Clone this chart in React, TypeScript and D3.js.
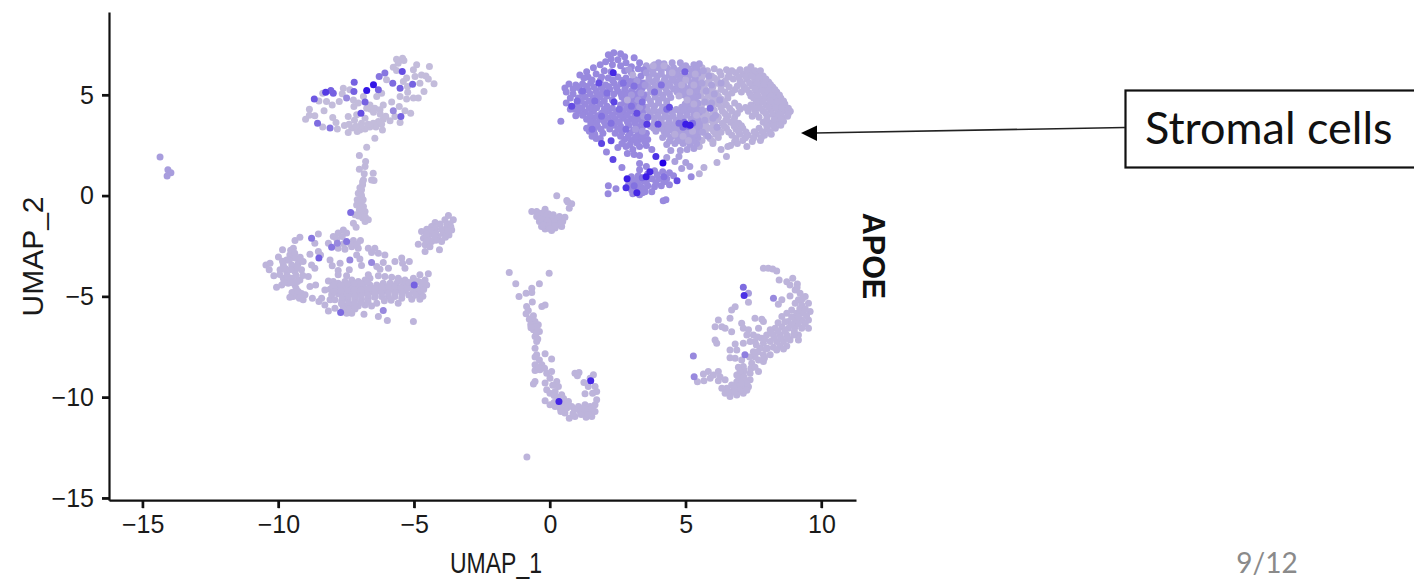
import React, { useEffect, useRef } from 'react'
import * as d3 from 'd3'

type Pt = [number, number]
type Cell = [number, number, number]

const xTicks = [-15, -10, -5, 0, 5, 10]
const yTicks = [-15, -10, -5, 0, 5]
const xLabel = 'UMAP_1'
const yLabel = 'UMAP_2'
const featureName = 'APOE'
const calloutText = 'Stromal cells'
const pageNumber = '9/12'

// dots are grouped by the colour they have in the picture, each with one APOE level
const stromalRight: Pt[] = [
  [5.6,6.35],[6.05,6.3],[6.5,6.25],[7.4,6.4],[5.35,6.1],[5.7,6.05],[5.95,5.95],[6.3,6.0],[6.6,6.05],[6.85,6.1],[7.1,6.05],[7.35,6.1],[7.6,6.05],[7.85,5.95],
  [5.5,5.75],[5.85,5.7],[6.15,5.75],[6.45,5.7],[6.75,5.8],[7.0,5.7],[7.25,5.8],[7.55,5.75],[7.8,5.7],[8.05,5.65],[5.65,5.45],[6.0,5.4],[6.3,5.45],[6.6,5.4],[6.9,5.45],[7.15,5.4],[7.45,5.45],[7.7,5.4],[7.95,5.35],[8.2,5.4],
  [5.55,5.15],[5.8,5.1],[6.1,5.1],[6.45,5.15],[6.7,5.1],[7.05,5.15],[7.35,5.1],[7.6,5.15],[7.9,5.05],[8.15,5.1],[8.35,5.15],[5.7,4.8],[6.0,4.85],[6.3,4.8],[6.55,4.85],[7.5,4.85],[7.75,4.8],[8.0,4.85],[8.3,4.8],[8.5,4.85],[8.25,4.95],
  [5.6,4.55],[5.9,4.5],[6.2,4.55],[6.5,4.5],[6.8,4.6],[7.4,4.5],[7.65,4.55],[7.95,4.5],[8.2,4.55],[8.45,4.5],[8.65,4.55],[5.75,4.2],[6.05,4.25],[6.35,4.2],[6.7,4.2],[7.0,4.3],[7.3,4.2],[7.55,4.25],[7.85,4.2],[8.15,4.25],[8.4,4.2],[8.65,4.2],[8.85,4.2],
  [5.55,3.9],[5.9,3.95],[6.2,3.9],[6.55,3.95],[6.8,3.9],[7.45,3.95],[7.7,3.9],[8.0,3.95],[8.3,3.9],[8.55,3.9],[8.75,3.95],[5.7,3.6],[6.0,3.65],[6.35,3.6],[6.65,3.65],[6.95,3.6],[7.85,3.65],[8.1,3.6],[8.4,3.65],[8.6,3.7],
  [5.6,3.3],[5.9,3.35],[6.2,3.3],[6.5,3.35],[6.85,3.3],[7.1,3.35],[7.7,3.35],[8.0,3.3],[8.3,3.35],[5.75,3.0],[6.1,3.05],[6.7,3.0],[7.0,3.05],[7.3,3.0],[7.6,3.05],[7.9,3.0],[8.15,3.05],
  [5.6,2.75],[6.0,2.7],[6.8,2.7],[7.1,2.75],[7.45,2.7],[7.75,2.75],[5.5,2.45],[6.55,2.45],[7.25,2.45],[6.65,2.5],[6.3,2.3],[6.5,1.95],[6.15,1.65],[5.67,1.4],[5.5,1.1],[6.0,2.6],[6.9,2.6],
  [5.8,6.2],[6.25,6.15],[6.7,6.2],[7.0,6.25],[7.25,6.25],[7.55,6.2],[7.75,6.2],[5.6,5.9],[6.05,5.85],[6.55,5.88],[6.95,5.9],[7.2,5.92],[7.45,5.92],[7.7,5.88],[7.95,5.8],
  [5.78,5.58],[6.18,5.58],[6.5,5.55],[7.08,5.57],[7.35,5.6],[7.62,5.57],[7.88,5.52],[8.12,5.52],[5.72,5.28],[5.95,5.25],[6.3,5.28],[6.82,5.28],[7.25,5.27],[7.55,5.3],[7.8,5.22],[8.05,5.22],[8.28,5.28],
  [5.55,4.95],[5.9,4.97],[6.2,4.95],[6.55,5.0],[7.4,4.95],[7.65,4.98],[7.92,4.93],[8.12,4.95],[8.45,5.0],[5.8,4.65],[6.1,4.68],[6.42,4.67],[7.6,4.68],[7.85,4.65],[8.1,4.7],[8.38,4.65],[8.6,4.7],
  [5.5,4.38],[5.98,4.38],[6.3,4.38],[6.62,4.35],[6.95,4.45],[7.2,4.38],[7.48,4.38],[7.75,4.35],[8.05,4.38],[8.3,4.38],[8.55,4.38],[8.78,4.35],[5.72,4.05],[6.0,4.08],[6.45,4.07],[6.9,4.08],[7.58,4.08],[7.95,4.08],[8.2,4.05],[8.48,4.05],[8.78,4.08],
  [5.85,3.78],[6.15,3.77],[6.48,3.78],[6.78,3.75],[7.98,3.8],[8.25,3.77],[8.5,3.8],[5.75,3.47],[6.08,3.48],[6.42,3.47],[6.78,3.47],[7.05,3.48],[7.98,3.48],[8.22,3.48],[8.5,3.5],
  [5.72,3.17],[6.02,3.2],[6.3,3.15],[6.58,3.17],[6.95,3.17],[7.22,3.17],[7.52,3.18],[7.82,3.18],[8.1,3.18],[5.9,2.85],[6.2,2.9],[6.85,2.85],[7.2,2.88],[7.5,2.87],[7.78,2.88],
]
const stromalMid: Pt[] = [
  [4.0,6.6],[4.5,6.6],[4.8,6.6],[5.5,6.55],[3.55,6.45],[3.85,6.5],[4.2,6.55],[5.0,6.45],[5.3,6.5],[3.5,6.2],[3.8,6.25],[4.1,6.2],[4.4,6.15],[4.7,6.2],[5.25,6.2],
  [3.65,5.9],[3.95,5.95],[4.25,5.85],[4.55,5.9],[4.8,5.95],[5.1,5.9],[5.35,5.85],[3.5,5.6],[3.8,5.65],[4.05,5.55],[4.35,5.6],[4.65,5.65],[4.9,5.55],[5.2,5.6],[5.45,5.55],
  [3.7,5.3],[4.0,5.25],[4.25,5.35],[4.55,5.3],[4.8,5.25],[5.05,5.3],[5.3,5.35],[3.55,5.0],[3.85,5.05],[4.15,5.0],[4.4,5.05],[4.95,5.0],[5.2,5.05],[5.45,4.95],
  [3.7,4.7],[4.0,4.75],[4.3,4.7],[5.1,4.7],[5.35,4.75],[3.55,4.4],[3.85,4.45],[4.15,4.4],[4.85,4.4],[5.1,4.4],[5.35,4.45],
  [3.7,4.1],[3.95,4.15],[4.25,4.05],[4.5,4.15],[4.8,4.1],[5.05,4.15],[5.3,4.05],[5.5,4.15],[3.55,3.8],[3.85,3.85],[4.1,3.8],[4.4,3.85],[4.65,3.75],[4.9,3.85],[5.2,3.8],[5.45,3.75],
  [3.7,3.45],[4.25,3.5],[4.5,3.5],[4.75,3.45],[5.3,3.5],[5.5,3.45],[3.9,3.2],[4.2,3.2],[4.45,3.25],[4.7,3.15],[4.95,3.2],[5.2,3.2],[5.45,3.15],
  [4.15,2.9],[4.45,2.9],[4.7,2.85],[4.95,2.9],[5.2,2.85],[5.45,2.9],[4.3,2.55],[4.6,2.6],[4.9,2.6],[5.15,2.55],[5.4,2.6],[4.45,2.25],[4.8,2.25],[5.05,2.3],[5.3,2.35],[4.75,1.95],[5.0,1.65],[4.85,1.35],[5.15,1.45],[4.3,1.9],[4.6,1.7],
  [3.68,6.32],[3.98,6.35],[4.3,6.35],[4.55,6.35],[4.85,6.3],[5.1,6.3],[5.4,6.3],[3.8,6.07],[4.1,6.03],[4.4,6.0],[4.65,6.03],[4.95,6.05],[5.22,6.03],[5.45,6.08],
  [3.65,5.77],[3.92,5.78],[4.2,5.72],[4.5,5.75],[4.78,5.78],[5.02,5.73],[5.32,5.7],[3.6,5.45],[3.88,5.45],[4.13,5.45],[4.42,5.47],[4.7,5.45],[4.95,5.42],[5.2,5.45],[5.45,5.4],
  [3.72,5.18],[4.0,5.12],[4.3,5.18],[4.68,5.15],[4.95,5.17],[5.18,5.2],[5.4,5.2],[3.6,4.85],[3.88,4.9],[4.15,4.85],[4.45,4.88],[5.05,4.85],[5.28,4.9],
  [3.72,4.55],[4.0,4.6],[4.3,4.55],[4.98,4.55],[5.22,4.57],[5.45,4.6],[3.58,4.25],[3.82,4.28],[4.1,4.23],[4.38,4.25],[4.65,4.28],[4.92,4.25],[5.18,4.28],[5.42,4.28],
  [3.7,3.95],[3.98,3.98],[4.25,3.93],[4.52,3.98],[4.78,3.95],[5.05,4.0],[5.33,3.93],[3.55,3.65],[3.85,3.65],[4.1,3.65],[4.38,3.67],[4.62,3.6],[4.85,3.65],[5.35,3.65],[5.5,3.6],
  [3.82,3.35],[4.08,3.35],[4.35,3.37],[4.6,3.32],[4.85,3.32],[5.08,3.35],[5.35,3.33],[4.3,3.05],[4.58,3.03],[4.82,3.02],[5.08,3.05],[5.32,3.02],[4.4,2.72],[4.75,2.73],[5.02,2.73],[5.28,2.72],
]
const stromalLeft: Pt[] = [
  [2.15,7.0],[2.35,7.1],[2.6,7.05],[2.75,6.9],[2.25,6.8],[2.5,6.75],[2.05,6.65],[1.85,6.5],[2.3,6.5],[2.6,6.45],[2.8,6.6],[3.0,6.4],[3.1,6.85],[3.3,6.6],
  [1.6,6.35],[1.35,6.15],[1.1,6.0],[1.4,5.9],[1.7,6.05],[2.0,6.2],[2.25,6.15],[2.75,6.2],[3.0,6.1],[3.25,6.3],[3.45,6.25],[1.9,5.9],[2.15,5.85],[2.5,5.9],[2.8,5.85],[3.1,5.8],[3.35,5.95],
  [.55,5.35],[.7,5.55],[.95,5.5],[.6,5.15],[1.2,5.55],[1.5,5.6],[2.05,5.5],[2.35,5.6],[2.6,5.55],[2.9,5.55],[3.2,5.5],[3.4,5.6],[.85,5.05],[1.15,5.2],[1.4,5.25],[1.7,5.2],[1.95,5.2],[2.2,5.3],[2.5,5.2],[2.75,5.25],[3.0,5.2],[3.3,5.2],
  [1.05,4.85],[1.3,4.9],[1.6,4.85],[1.85,4.9],[2.1,4.95],[2.65,4.9],[2.9,4.85],[3.15,4.9],[3.4,4.85],[.6,4.6],[.75,4.3],[1.0,4.5],[1.3,4.55],[1.55,4.5],[1.85,4.55],[2.1,4.45],[2.6,4.5],[2.85,4.55],[3.1,4.5],[3.4,4.45],
  [1.05,4.2],[1.3,4.15],[1.6,4.2],[1.9,4.1],[2.15,4.2],[2.45,4.15],[2.7,4.15],[2.95,4.2],[3.4,4.15],[.95,3.97],[.4,3.7],[1.35,3.8],[1.6,3.85],[1.85,3.8],[2.15,3.85],[2.4,3.8],[2.7,3.85],[3.0,3.8],[3.25,3.8],
  [1.5,3.5],[1.75,3.45],[2.05,3.5],[2.35,3.5],[2.6,3.45],[2.9,3.5],[3.2,3.45],[3.45,3.5],[1.45,3.2],[1.65,3.05],[1.95,3.1],[2.4,3.1],[2.65,3.15],[2.95,3.1],[3.25,3.1],[3.55,3.1],
  [1.7,2.85],[2.75,2.8],[3.0,2.75],[3.3,2.8],[3.6,2.8],[2.5,2.4],[2.8,2.45],[3.05,2.3],[3.3,2.45],[3.55,2.5],[3.75,2.3],[2.85,2.1],[3.1,2.05],[2.08,2.17],[2.65,1.4],[3.3,1.6],[3.3,2.0],
  [1.25,5.85],[1.55,5.75],[1.85,5.72],[2.3,5.75],[2.65,5.72],[3.0,5.7],[3.25,5.72],[.85,5.3],[1.05,5.38],[1.35,5.42],[1.62,5.4],[1.88,5.38],[2.15,5.42],[2.45,5.38],[2.78,5.4],[3.08,5.37],[3.4,5.35],
  [.75,4.85],[1.2,5.05],[1.48,5.07],[1.75,5.05],[2.02,5.08],[2.35,5.05],[2.62,5.05],[2.85,5.02],[3.18,5.05],[3.45,5.02],[1.15,4.7],[1.45,4.7],[1.72,4.72],[2.0,4.7],[2.3,4.75],[2.75,4.7],[3.0,4.7],[3.28,4.68],
  [.9,4.3],[1.18,4.37],[1.45,4.33],[1.72,4.37],[2.0,4.3],[2.3,4.35],[2.58,4.32],[2.82,4.35],[3.08,4.33],[3.28,4.3],[1.2,4.0],[1.48,4.0],[1.75,3.97],[2.02,3.98],[2.3,4.0],[2.58,3.98],[2.85,4.0],[3.12,3.97],[3.4,3.97],
  [1.5,3.68],[1.72,3.63],[2.0,3.68],[2.28,3.65],[2.55,3.65],[2.85,3.68],[3.12,3.62],[3.38,3.65],[1.35,3.35],[1.62,3.28],[1.88,3.3],[2.2,3.32],[2.5,3.3],[2.78,3.32],[3.08,3.28],[3.38,3.3],
  [1.55,2.95],[1.85,2.85],[2.6,2.95],[2.88,2.95],[3.15,2.92],[3.42,2.95],[2.65,2.6],[2.95,2.55],[3.2,2.62],[3.5,2.68],
]
const stromalLobe: Pt[] = [
  [3.3,1.3],[3.55,1.45],[3.85,1.25],[4.15,1.2],[4.4,1.15],[3.0,.95],[3.25,1.0],[3.45,.75],[3.75,.85],[4.0,.85],[4.3,.85],[4.55,1.0],[2.9,.6],[3.1,.65],[3.35,.45],[3.6,.5],[3.85,.45],[4.1,.5],[4.4,.55],
  [3.0,.3],[3.2,.4],[3.05,.1],[3.3,.05],[3.5,.2],[3.75,.2],[3.25,.2],[4.27,-.2],[4.17,-.25],[2.15,.5],[2.43,.35],[2.14,.1],[5.2,.95],
  [3.6,1.1],[3.95,1.05],[2.95,.8],[3.2,.8],[3.55,.7],[3.25,.6],[3.5,.35],[3.15,.25],[3.0,.45],[3.4,.15],[4.2,.7],[3.9,.65],
]
// single dots that break up the colour bands
const stromalDarkSpecks: Pt[] = [
  [1.2,5.2],[1.65,4.7],[2.1,5.1],[2.55,4.3],[1.9,3.95],[2.8,3.3],[3.4,4.65],[3.1,5.45],[3.85,5.15],[4.3,4.3],[4.75,3.6],[4.95,3.65],[5.1,3.45],[5.25,3.6],[4.9,3.4],[1.55,3.3],[2.25,3.6],[3.0,4.45],[3.6,3.9],[4.1,5.5],[2.7,5.6],[1.0,4.7],[4.2,.95],[3.4,.9],[3.1,.5],
]
const stromalPaleSpecks: Pt[] = [
  [5.0,5.75],[5.15,5.15],[5.3,4.55],[5.4,4.0],[5.25,3.2],[5.1,2.75],[5.35,6.05],[4.85,5.5],[5.05,4.75],[4.75,4.95],[4.6,3.05],[4.9,2.95],[5.3,5.5],[4.5,6.1],[4.2,6.45],[3.8,6.45],[3.05,6.0],[2.85,4.75],
]
const stromalEdgeRight: Pt[] = [
  [5.6,5.6],[5.75,5.2],[5.7,4.65],[5.62,4.25],[5.7,3.75],[5.62,3.15],[5.85,5.95],[5.95,4.6],[6.0,3.85],[5.82,2.95],[5.95,5.5],[6.05,5.05],[6.1,4.0],[5.65,6.2],[6.15,3.4],[6.3,5.6],[6.25,4.75],
]
const stromalEdgeLeft: Pt[] = [
  [3.2,5.7],[3.35,5.1],[3.3,4.4],[3.45,3.95],[3.15,3.3],[3.4,3.2],[3.0,5.0],[2.9,6.25],[3.55,6.1],[3.25,4.75],[3.5,5.5],
]
const stromalHot: Cell[] = [
  [2.33,6.1,.8],[1.8,5.6,.6],[.8,4.45,.6],[2.36,4.65,.65],[3.2,4.1,.6],[3.57,3.55,.7],[3.98,3.55,.6],[4.4,4.4,.6],[5.0,3.55,.85],[5.16,3.5,.85],[4.97,6.15,.5],[5.9,4.35,.45],
  [1.9,2.6,.65],[2.25,2.73,.6],[2.32,1.8,.65],[3.9,1.95,.75],[4.16,1.63,1],[2.84,.85,.85],[2.8,.4,.75],[3.54,.95,.85],[3.68,1.2,.8],[3.2,.15,.8],[4.68,.75,.6],
]
const topLeft: Pt[] = [
  [-5.65,6.78],[-5.43,6.83],[-5.38,6.71],[-5.59,6.58],[-5.77,6.38],[-5.65,6.22],[-4.91,6.5],[-5.03,6.25],[-4.44,6.42],[-4.73,6.0],[-4.57,5.95],[-4.97,5.92],[-5.28,5.84],[-4.27,5.56],[-4.48,5.79],[-4.64,5.18],[-4.79,5.59],[-5.4,5.67],[-5.25,5.42],
  [-6.02,5.76],[-6.2,5.09],[-6.38,4.93],[-7.37,5.26],[-7.61,5.34],[-7.65,5.06],[-8.37,5.09],[-8.51,4.71],[-8.23,4.68],[-8.02,4.51],[-7.76,4.68],[-7.24,4.76],[-6.63,4.51],[-6.45,4.35],[-6.26,4.27],[-6.14,4.51],[-5.83,4.65],[-5.52,4.93],[-5.28,4.8],[-5.03,4.85],[-4.85,4.85],[-5.24,5.14],[-5.55,4.43],[-5.34,4.22],[-5.13,4.1],[-5.71,3.94],[-5.89,3.72],[-5.52,3.64],[-6.17,3.27],
  [-6.14,3.8],[-6.32,3.69],[-6.51,3.6],[-6.41,3.41],[-6.63,3.41],[-6.81,3.31],[-7,3.27],[-6.94,3.6],[-7.3,3.36],[-7.43,3.14],[-7.1,3.19],[-7.57,3.49],[-7.83,3.31],[-7.88,3.64],[-8,3.89],[-8.37,3.41],[-9,3.8],[-8.86,4],[-8.66,3.97],[-8.86,4.3],[-8.32,4.22],[-7.43,3.94],[-7.22,4.43],[-7.12,4.02],[-6.81,3.85],[-6.75,4.35],[-6.87,4.93],[-7.06,4.6],[-6.45,2.86],[-6.75,2.41],
  [-6.6,4.3],[-6.5,4.15],[-6.25,4.05],[-6.05,3.95],[-7.2,3.75],[-6.95,3.45],[-6.7,3.55],[-6.2,3.55],[-7.4,3.55],[-7.15,3.45],
]
const topLeftHot: Cell[] = [
  [-5.44,6.17,.6],[-5.06,5.54,.5],[-5.52,5.34,.5],[-5.79,5.59,.45],[-6.08,6.09,.4],[-6.29,5.92,.4],[-6.5,5.51,.9],[-6.75,5.23,.9],[-6.32,5.26,.5],[-7.21,5.64,.5],[-7.22,5.18,.5],[-7.98,5.09,.5],[-8.26,5.14,.7],[-8.07,5.23,.5],[-8.68,4.81,.55],[-7.49,4.85,.3],[-6.81,4.65,.5],[-5.77,4.22,.3],[-5.49,3.94,.5],[-8.1,3.36,.4],[-8.56,3.6,.45],[-6.96,4.1,.6],[-7.34,-.83,.45],
]
const stem: Pt[] = [
  [-7.02,2.0],[-6.79,1.7],[-6.81,1.45],[-7.02,1.32],[-6.84,1.09],[-6.51,1.12],[-6.48,.76],[-6.57,.79],[-6.87,.79],[-6.9,.55],[-6.94,.3],[-7.06,.13],[-6.94,-.03],[-7.1,-.2],[-6.96,-.36],[-7.12,-.45],[-6.87,-.53],[-6.81,-.78],[-7.02,-.7],[-7.18,-.94],[-6.69,-1.19],[-6.81,-1.27],[-6.87,-.94],[-7.24,-1.36],[-7.14,-1.56],
  [-6.95,.05],[-6.88,-.2],[-7.05,-.2],[-6.95,-.6],[-7.05,-1.0],[-6.9,-1.1],[-6.8,-1.05],[-7.0,.4],[-6.9,.7],
]
const smallLeft: Pt[] = [[-14.36,1.93],[-14.07,1.29],[-13.96,1.14],[-14.1,.99]]
const bottomLeft: Pt[] = [
  [-3.74,-.98],[-3.56,-1.19],[-3.68,-1.39],[-3.87,-1.19],[-4.23,-1.32],[-4.36,-1.52],[-4.54,-1.66],[-4.73,-1.77],[-3.62,-1.69],[-3.8,-1.61],[-3.72,-1.94],[-3.93,-1.85],[-4.11,-2.02],[-4.3,-1.85],[-4.48,-2.02],[-4.66,-2.1],[-4.85,-2.4],[-4.6,-2.43],[-4.36,-2.27],[-4.42,-2.52],[-4.6,-2.76],[-4.07,-2.68],[-3.99,-2.27],[-4.23,-1.61],
  [-4.05,-1.4],[-4.2,-1.85],[-3.8,-1.4],[-4.0,-1.65],[-3.85,-2.05],[-4.2,-2.2],[-4.55,-2.25],[-4.25,-2.0],[-4.4,-1.72],[-4.55,-1.9],[-3.65,-1.55],[-3.75,-1.75],
  [-10.46,-3.43],[-10.31,-3.34],[-10.34,-3.67],[-10.17,-3.97],[-10.07,-4.53],[-9.88,-4.42],[-10.0,-3.04],[-9.85,-2.68],[-9.39,-2.22],[-9.21,-2.05],[-9.45,-2.6],[-9.58,-2.93],[-9.39,-3.09],[-9.7,-3.18],[-9.82,-3.43],[-9.51,-3.43],[-9.27,-3.34],[-9.94,-3.67],[-9.7,-3.76],[-9.39,-3.76],[-9.15,-3.67],[-9.82,-4.09],[-9.51,-4.09],[-9.64,-4.34],[-9.39,-4.42],[-9.21,-4.17],[-9.09,-3.26],[-8.84,-2.9],[-8.53,-2.76],[-8.45,-2.93],[-8.53,-1.89],[-8.66,-2.35],[-8.9,-4],[-8.66,-3.59],[-8.78,-3.43],[-8.84,-4.5],[-8.63,-4.42],
  [-9.85,-3.25],[-9.6,-3.2],[-9.75,-3.6],[-9.55,-3.65],[-9.3,-3.55],[-9.95,-3.9],[-9.68,-3.95],[-9.35,-3.95],[-9.65,-4.15],[-9.8,-4.3],[-9.5,-4.3],[-9.3,-4.25],[-9.35,-4.6],[-9.5,-4.8],[-9.15,-4.85],[-9.3,-4.95],[-9.1,-3.95],[-9.2,-3.05],[-9.55,-2.7],[-9.4,-2.85],
  [-9.45,-5],[-9.23,-5.08],[-9.58,-5.03],[-9.09,-5.16],[-9.02,-4.91],[-9.27,-4.75],[-8.75,-5.08],[-8.41,-5.08],[-8.51,-5.24],[-8.29,-5.41],[-8.1,-5.16],[-8.16,-5.71],[-7.92,-5.58],[-7.49,-5.82],[-7.3,-5.82],[-6.85,-5.87],[-6.32,-5.99],[-5.99,-6.19],[-5.03,-6.24],
  [-7.61,-1.69],[-7.8,-1.85],[-7.98,-2.02],[-7.49,-1.85],[-8.16,-2.35],[-7.8,-2.6],[-7.55,-2.65],[-7.24,-2.22],[-6.98,-2.22],[-7.3,-2.52],[-7.06,-2.6],[-7.12,-2.93],[-7,-3.14],[-8.1,-3.18],[-8.02,-3.47],[-7.73,-3.34],[-7.8,-3.71],[-7.8,-3.92],[-7.39,-3.67],[-7.49,-3.97],[-6.94,-3.46],[-6.69,-2.6],[-6.45,-2.6],[-6.57,-2.81],[-6.32,-2.85],[-6.08,-2.93],[-6.38,-3.51],[-6.14,-3.31],[-5.95,-3.59],[-6.26,-3.64],[-5.71,-3.26],[-5.46,-3.09],[-5.43,-3.34],[-5.34,-3.59],[-5.18,-3.26],[-4.48,-3.87],
  [-7.65,-2.02],[-7.85,-2.15],[-7.6,-2.38],[-7.35,-2.38],[-7.1,-2.4],
  [-8.16,-4.22],[-7.98,-4.25],[-7.8,-4.34],[-7.55,-4.25],[-7.3,-4.17],[-7.06,-4.25],[-6.81,-4.17],[-6.63,-4.09],[-6.69,-3.92],[-6.32,-3.97],[-6.08,-4],[-5.83,-4.04],[-5.59,-4.09],[-5.34,-4.17],[-5.03,-4.09],[-4.79,-3.92],[-4.6,-4.17],[-4.85,-4.25],[-4.73,-4.53],[-4.54,-4.42],[-5.18,-4.5],[-5.4,-4.42],[-5.65,-4.34],[-5.89,-4.34],[-6.14,-4.34],[-6.38,-4.42],[-6.63,-4.42],[-6.87,-4.5],[-7.12,-4.53],[-7.37,-4.5],[-7.61,-4.58],[-7.86,-4.58],[-8.1,-4.63],[-8.29,-4.67],
  [-8.04,-4.91],[-7.8,-4.86],[-7.55,-4.86],[-7.3,-4.83],[-7.06,-4.83],[-6.81,-4.8],[-6.57,-4.75],[-6.32,-4.7],[-6.08,-4.67],[-5.83,-4.63],[-5.59,-4.67],[-5.34,-4.7],[-5.03,-4.75],[-4.79,-4.83],[-6.2,-5],[-5.95,-5],[-5.71,-5],[-5.46,-5.08],[-5.09,-5.13],[-4.79,-5.13],[-5.59,-5.33],[-6.45,-5.03],[-6.69,-5.08],[-6.94,-5.13],[-7.18,-5.13],[-7.43,-5.16],[-7.67,-5.2],[-7.92,-5.16],[-7.55,-5.46],[-7.3,-5.43],[-7.06,-5.46],[-6.81,-5.41],[-6.57,-5.46],[-6.38,-5.33],
  [-8.0,-4.45],[-7.7,-4.42],[-7.45,-4.38],[-7.2,-4.38],[-6.95,-4.35],[-6.72,-4.28],[-7.95,-4.75],[-7.7,-4.72],[-7.45,-4.7],[-7.2,-4.68],[-6.95,-4.66],[-6.7,-4.62],[-6.45,-4.58],[-6.2,-4.52],[-5.95,-4.5],[-5.72,-4.5],[-5.48,-4.55],[-5.25,-4.6],[-4.92,-4.6],[-4.65,-4.65],
  [-7.65,-5.03],[-7.42,-5.0],[-7.18,-4.98],[-6.95,-4.97],[-6.7,-4.93],[-6.45,-4.87],[-6.2,-4.83],[-5.95,-4.82],[-5.7,-4.82],[-5.45,-4.88],[-5.2,-4.92],[-4.95,-4.93],[-4.68,-4.98],[-7.68,-5.35],[-7.42,-5.33],[-7.2,-5.3],[-6.95,-5.28],[-6.7,-5.27],[-6.1,-5.2],[-5.85,-5.18],[-7.42,-5.62],[-7.18,-5.62],[-7.62,-5.62],[-5.55,-4.2],[-5.2,-4.3],[-4.95,-4.25],[-4.7,-4.3],
]
const bottomLeftHot: Cell[] = [
  [-8.78,-2.1,.4],[-8.51,-3.09,.5],[-7.83,-2.35,.3],[-8.04,-2.55,.4],[-7.49,-2.27,.4],[-7.37,-3.18,.3],[-6.57,-3.31,.3],[-5,-4.42,.5],[-7.71,-5.79,.45],[-6.14,-5.69,.3],
]
const centerBlob: Pt[] = [
  [-.67,-.78],[-.49,-.78],[-.18,-.66],[-.3,-.86],[-.06,-.89],[.12,-.94],[.35,-1.02],[.55,-1.06],[-.49,-1.02],[-.24,-1.11],[0,-1.16],[.25,-1.19],[.47,-1.27],[-.39,-1.27],[-.18,-1.35],[.06,-1.39],[.31,-1.44],[-.31,-1.52],[-.06,-1.6],[.19,-1.6],[-.18,-1.65],[.06,-1.72],[.43,-1.52],[.25,0],[.62,-.23],[.8,-.39],[.71,-.61],[.66,-.3],
  [-.4,-.9],[-.15,-1.0],[.05,-1.05],[.3,-1.1],[-.35,-1.15],[-.1,-1.25],[.18,-1.3],[.4,-1.35],[-.25,-1.45],[-.05,-1.48],[.18,-1.48],[.0,-1.62],
]
const tail: Pt[] = [
  [-1.5,-3.8],[-1.26,-4.36],[-.03,-3.84],[-.39,-4.36],[-.67,-4.58],[-.88,-4.83],[-.67,-4.79],[-1.14,-5],[-.65,-5.27],[-.3,-5.49],[-.18,-5.41],[-.86,-5.49],[-.8,-5.69],[-.88,-5.85],[-.61,-5.95],[-.76,-6.12],[-.55,-6.23],[-.71,-6.4],[-.43,-6.4],[-.61,-6.65],[-.39,-6.73],[-.55,-6.98],[-.49,-7.23],[-.55,-7.56],[-.49,-7.89],[-.18,-7.84],[.06,-8.09],[-.39,-8.14],[-.55,-8.38],[-.3,-8.38],[-.55,-8.66],[-.37,-8.63],[-.12,-8.8],[.06,-8.71],[0,-9.05],[-.55,-9.21],[-.61,-9.33],[-.18,-9.29],[.25,-9.21],[.31,-9.46],[-.12,-9.62],[0,-9.79],[.19,-9.71],[.43,-9.87],[-.18,-10.17],[0,-10.37],[.19,-10.45],[.49,-10.29],[.68,-10.2],[.37,-10.53],[.62,-10.53],[.8,-10.45],[.55,-10.78],[.71,-11.03],[.92,-10.95],[1.05,-10.45],[1.11,-10.7],[1.29,-10.37],[1.48,-10.45],[1.66,-10.37],[1.29,-10.7],[1.48,-10.75],[1.66,-10.7],[1.33,-10.98],[1.54,-10.95],[1.72,-10.12],[.92,-8.8],[1.07,-8.76],[1.01,-8.93],[1.25,-9.26],[1.6,-8.88],[1.48,-9.05],[1.41,-9.46],[1.66,-9.46],[1.72,-9.71],[1.57,-9.79],[1.29,-9.82],[-.85,-12.96],
  [-.65,-6.05],[-.5,-6.5],[-.7,-6.55],[-.5,-6.8],[-.45,-7.1],[-.55,-8.0],[-.42,-8.5],[-.2,-8.55],[.1,-9.4],[.15,-9.9],[.3,-10.0],[.5,-10.05],[.4,-10.3],[.15,-10.25],[.65,-10.38],[.9,-10.6],[.85,-10.8],[.55,-10.6],[.4,-10.7],[1.2,-10.55],[1.4,-10.6],[1.55,-10.55],[1.15,-10.85],[1.4,-10.85],
]
const tailHot: Cell[] = [[.33,-10.2,.8],[1.5,-9.18,.8]]
const lowerRight: Pt[] = [
  [7.86,-3.59],[8.04,-3.59],[8.2,-3.63],[8.35,-3.73],[8.44,-4.17],[7.31,-5.28],[8.54,-5.16],[8.41,-5.38],[8.94,-4.09],[8.72,-4.26],[8.84,-4.42],[9.11,-4.37],[9.03,-4.67],[9.21,-4.83],[8.84,-4.97],[9.4,-5],[9.15,-5.16],[9.52,-5.33],[9.27,-5.41],[9.03,-5.33],[8.9,-5.66],[9.58,-5.74],[9.33,-5.83],[9.09,-5.83],[8.72,-5.83],[8.54,-5.99],[9.52,-6.16],[9.27,-6.16],[9.03,-6.16],[8.78,-6.24],[9.52,-6.57],[9.27,-6.57],[9.03,-6.49],[8.78,-6.57],[8.54,-6.49],[8.29,-6.57],[8.11,-6.65],
  [9.15,-6.9],[8.97,-6.9],[8.72,-6.9],[8.47,-6.9],[8.23,-6.9],[7.98,-6.9],[7.8,-7.07],[7.55,-7.23],[8.6,-7.23],[8.35,-7.23],[8.11,-7.23],[7.86,-7.31],[8.84,-7.15],[9.15,-7.15],[8.72,-7.45],[8.47,-7.45],[8.23,-7.51],[8.01,-7.56],[7.74,-7.56],[7.37,-7.23],[7.12,-7.31],[6.82,-7.35],[6.63,-7.65],[6.88,-7.65],[7.49,-7.73],[7.86,-7.89],[8.11,-7.89],[6.63,-8.03],[6.82,-8.06],[7.06,-8.14],[7.86,-8.22],[7.68,-8.14],[7.43,-8.31],[7.12,-8.47],[6.94,-8.51],[7.68,-8.72],[7.37,-8.8],[7.12,-8.8],[6.88,-8.89],[7.37,-9.13],[7.12,-9.13],[6.88,-9.22],[6.69,-9.38],[6.94,-9.47],[7.18,-9.47],[6.51,-9.55],[6.33,-9.55],[6.45,-9.8],[6.69,-9.71],[6.63,-9.96],[6.88,-9.88],[7.12,-9.8],[7.31,-9.47],
  [5.43,-9.22],[5.65,-8.84],[5.83,-8.72],[5.67,-9.17],[5.9,-9.05],[6.02,-8.89],[6.2,-8.72],[6.26,-8.97],[6.45,-9.13],[6.2,-9.17],[6.08,-7.15],[6.14,-7.31],[6.08,-6.49],[6.33,-6.49],[6.2,-6.16],[6.45,-6.57],[6.69,-6.74],[6.63,-6.07],[6.69,-5.66],[6.82,-5.5],[7.55,-6.07],[7.8,-6.12],[7.86,-6.24],[7.06,-6.32],[7.12,-6.57],[7.31,-6.65],[7.68,-6.57],[7.49,-6.9],[7.25,-6.9],
  [9.1,-4.55],[9.3,-5.1],[9.2,-5.6],[9.4,-5.6],[9.45,-5.95],[9.15,-6.0],[8.9,-6.0],[8.65,-6.25],[8.4,-6.3],[9.4,-6.35],[9.15,-6.35],[8.9,-6.4],[8.65,-6.7],[8.4,-6.7],[8.15,-6.8],[7.9,-7.1],[8.25,-7.05],[8.5,-7.05],[8.75,-7.05],[9.0,-6.7],[7.65,-7.0],[7.95,-7.6],[8.35,-7.65],[8.6,-7.6],[7.6,-7.4],[7.65,-7.75],[7.9,-8.05],[7.55,-8.0],[7.35,-8.0],[7.4,-8.55],[7.15,-8.65],[7.55,-8.5],[7.0,-8.7],[7.25,-9.3],[7.05,-9.3],[6.8,-9.55],[7.0,-9.65],[7.25,-9.65],[6.55,-9.75],[6.8,-9.75],[6.95,-9.0],[7.15,-9.0],
]
const lowerRightHot: Cell[] = [
  [7.12,-4.54,.45],[7.15,-4.95,.75],[7.31,-4.83,.2],[8.23,-5.08,.3],[7.18,-7.89,.35],[5.28,-7.94,.3],[5.31,-8.97,.3],
]

// [points, expression level] per group, drawn in this order
const flatGroups: [Pt[], number][] = [
  [stromalRight, 0.1],
  [stromalMid, 0.19],
  [stromalLeft, 0.3],
  [stromalLobe, 0.3],
  [stromalEdgeRight, 0.17],
  [stromalEdgeLeft, 0.22],
  [stromalPaleSpecks, 0.12],
  [stromalDarkSpecks, 0.42],
  [topLeft, 0.04],
  [stem, 0.06],
  [smallLeft, 0.2],
  [bottomLeft, 0.08],
  [centerBlob, 0.09],
  [tail, 0.08],
  [lowerRight, 0.08],
]
const hotGroups = [stromalHot, topLeftHot, bottomLeftHot, tailHot, lowerRightHot]

const width = 1414
const height = 579

const App: React.FC = () => {
  const svgRef = useRef<SVGSVGElement>(null)

  useEffect(() => {
    if (!svgRef.current) return
    const svg = d3.select(svgRef.current)
    svg.selectAll('*').remove()

    const x = d3.scaleLinear().domain([-16.24, 11.27]).range([109, 856])
    const y = d3.scaleLinear().domain([-15.1, 9.12]).range([500.2, 12])
    const color = d3.scaleLinear<string>().domain([0, 1]).range(['#cac4da', '#2200e8'])

    const cells: Cell[] = [
      ...flatGroups.flatMap(([pts, e]) => pts.map(([a, b]) => [a, b, e] as Cell)),
      ...hotGroups.flat().sort((p, q) => p[2] - q[2]),
    ]

    const defs = svg.append('defs')
    defs.append('filter').attr('id', 'soft').append('feGaussianBlur').attr('stdDeviation', 0.45)

    svg.append('g')
      .attr('filter', 'url(#soft)')
      .selectAll('circle')
      .data(cells)
      .enter()
      .append('circle')
      .attr('cx', (d) => x(d[0]))
      .attr('cy', (d) => y(d[1]))
      .attr('r', 3.5)
      .style('fill', (d) => color(d[2]))

    const font = '"Liberation Sans", Arial, sans-serif'
    const gx = svg.append('g')
      .attr('transform', 'translate(0,500.2)')
      .call(d3.axisBottom(x).tickValues(xTicks).tickSize(8).tickSizeOuter(0).tickPadding(7).tickFormat(d3.format('d') as never))
    const gy = svg.append('g')
      .attr('transform', 'translate(109,0)')
      .call(d3.axisLeft(y).tickValues(yTicks).tickSize(7).tickSizeOuter(0).tickPadding(8).tickFormat(d3.format('d') as never))
    for (const g of [gx, gy]) {
      g.select('.domain').attr('stroke', '#111').attr('stroke-width', 2.2)
      g.selectAll('.tick line').attr('stroke', '#111').attr('stroke-width', 2.2).style('stroke-opacity', 1)
      g.selectAll('.tick text').style('font-family', font).style('font-size', '25px').attr('fill', '#1a1a1a')
    }
    // tick marks once more on their own layer so they stay crisp above the axis line
    svg.append('g').selectAll('line').data(xTicks).enter().append('line')
      .attr('x1', (d) => x(d)).attr('x2', (d) => x(d))
      .attr('y1', 500).attr('y2', 508)
      .attr('stroke', '#111').attr('stroke-width', 2.2)
    svg.append('g').selectAll('line').data(yTicks).enter().append('line')
      .attr('y1', (d) => y(d)).attr('y2', (d) => y(d))
      .attr('x1', 102).attr('x2', 109)
      .attr('stroke', '#111').attr('stroke-width', 2.2)

    svg.append('text')
      .attr('x', 450).attr('y', 573)
      .attr('textLength', 92).attr('lengthAdjust', 'spacingAndGlyphs')
      .style('font-family', font).style('font-size', '30px')
      .attr('fill', '#1a1a1a')
      .text(xLabel)
    svg.append('text')
      .attr('transform', 'translate(43,256.5) rotate(-90)')
      .attr('text-anchor', 'middle')
      .style('font-family', font).style('font-size', '30px')
      .attr('fill', '#1a1a1a')
      .text(yLabel)
    svg.append('text')
      .attr('transform', 'translate(863,256) rotate(90)')
      .attr('text-anchor', 'middle')
      .style('font-family', font).style('font-size', '30.5px').style('font-weight', 'bold')
      .attr('fill', '#111')
      .text(featureName)

    // callout box and arrow, drawn on top of the figure
    svg.append('rect')
      .attr('x', 1125.5).attr('y', 90.5).attr('width', 300).attr('height', 77)
      .attr('fill', '#fff').attr('stroke', '#111').attr('stroke-width', 2.2)
    svg.append('text')
      .attr('x', 1145).attr('y', 144)
      .style('font-family', 'Lato, sans-serif').style('font-size', '45px')
      .attr('fill', '#111')
      .text(calloutText)
    svg.append('line')
      .attr('x1', 1125).attr('y1', 127.5).attr('x2', 815).attr('y2', 133)
      .attr('stroke', '#222').attr('stroke-width', 1.6)
    svg.append('path')
      .attr('d', d3.line()([[801, 133], [817, 125.5], [817, 141]]) + 'Z')
      .attr('fill', '#000')
    svg.append('text')
      .attr('x', 1267).attr('y', 573)
      .attr('text-anchor', 'middle')
      .style('font-family', 'Lato, sans-serif').style('font-size', '28px')
      .attr('fill', '#8a8a8a')
      .text(pageNumber)
  }, [])

  return (
    <svg
      ref={svgRef}
      width={width}
      height={height}
      style={{ position: 'absolute', left: 0, top: 0, background: '#fff' }}
    />
  )
}

export default App
